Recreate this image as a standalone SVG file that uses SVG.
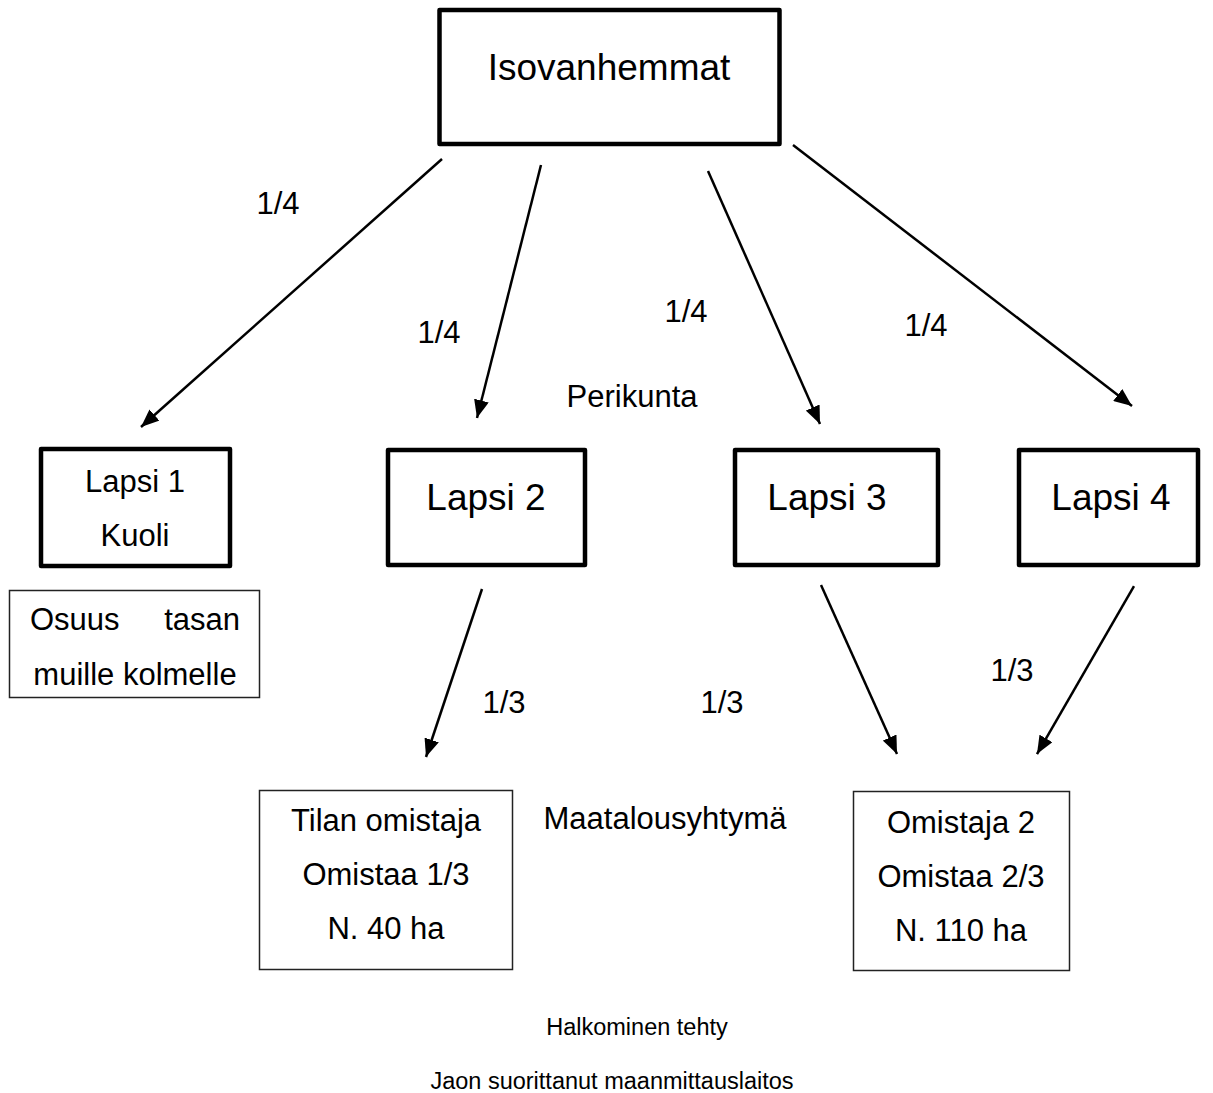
<svg xmlns="http://www.w3.org/2000/svg" width="1213" height="1093" viewBox="0 0 1213 1093">
<style>
  text { font-family: "Liberation Sans", Arial, sans-serif; fill: #000; }
  .big { font-size: 37px; text-anchor: middle; }
  .sm { font-size: 31px; text-anchor: middle; }
  .foot { font-size: 23.5px; text-anchor: middle; }
  .thick { fill: #fff; stroke: #000; stroke-width: 4.5; stroke-linejoin: round; }
  .thin { fill: #fff; stroke: #222; stroke-width: 1.5; }
  .conn line { stroke: #000; stroke-width: 2.5; marker-end: url(#ah); }
</style>
<defs>
  <marker id="ah" markerUnits="userSpaceOnUse" markerWidth="19" markerHeight="15" refX="18" refY="7.5" orient="auto">
    <path d="M0,0 L18,7.5 L0,15 z" fill="#000"/>
  </marker>
</defs>
<rect width="1213" height="1093" fill="#fff"/>

<g id="isovanhemmat">
  <rect class="thick" x="439.5" y="10" width="340" height="134"/>
  <text class="big" x="609" y="80">Isovanhemmat</text>
</g>
<g id="lapsi1">
  <rect class="thick" x="41" y="449" width="189" height="117"/>
  <text class="sm" x="135" y="492">Lapsi 1</text>
  <text class="sm" x="135" y="546">Kuoli</text>
</g>
<g id="osuus">
  <rect class="thin" x="9.5" y="590.5" width="250" height="107"/>
  <text class="sm" x="30" y="630" style="text-anchor:start">Osuus</text>
  <text class="sm" x="240" y="630" style="text-anchor:end">tasan</text>
  <text class="sm" x="135" y="685">muille kolmelle</text>
</g>
<g id="lapsi2">
  <rect class="thick" x="388" y="450" width="197" height="115"/>
  <text class="big" x="486" y="510">Lapsi 2</text>
</g>
<g id="lapsi3">
  <rect class="thick" x="735" y="450" width="203" height="115"/>
  <text class="big" x="827" y="510">Lapsi 3</text>
</g>
<g id="lapsi4">
  <rect class="thick" x="1019" y="450" width="179" height="115"/>
  <text class="big" x="1111" y="510">Lapsi 4</text>
</g>
<g id="tilan-omistaja">
  <rect class="thin" x="259.5" y="790.5" width="253" height="179"/>
  <text class="sm" x="386" y="831">Tilan omistaja</text>
  <text class="sm" x="386" y="885">Omistaa 1/3</text>
  <text class="sm" x="386" y="939">N. 40 ha</text>
</g>
<g id="omistaja2">
  <rect class="thin" x="853.5" y="791.5" width="216" height="179"/>
  <text class="sm" x="961" y="833">Omistaja 2</text>
  <text class="sm" x="961" y="887">Omistaa 2/3</text>
  <text class="sm" x="961" y="941">N. 110 ha</text>
</g>

<g id="connectors" class="conn">
  <line x1="442" y1="159" x2="141" y2="427"/>
  <line x1="541" y1="165" x2="477" y2="418"/>
  <line x1="708" y1="171" x2="820" y2="424"/>
  <line x1="793" y1="145" x2="1132" y2="406"/>
  <line x1="482" y1="589" x2="426" y2="757"/>
  <line x1="821" y1="585" x2="897" y2="754"/>
  <line x1="1134" y1="586" x2="1037" y2="754"/>
</g>

<g id="labels">
  <text class="sm" x="278" y="214">1/4</text>
  <text class="sm" x="439" y="343">1/4</text>
  <text class="sm" x="686" y="322">1/4</text>
  <text class="sm" x="926" y="336">1/4</text>
  <text class="sm" x="632" y="407">Perikunta</text>
  <text class="sm" x="504" y="713">1/3</text>
  <text class="sm" x="722" y="713">1/3</text>
  <text class="sm" x="1012" y="681">1/3</text>
  <text class="sm" x="665" y="829">Maatalousyhtymä</text>
  <text class="foot" x="637" y="1035">Halkominen tehty</text>
  <text class="foot" x="612" y="1089">Jaon suorittanut maanmittauslaitos</text>
</g>
</svg>
